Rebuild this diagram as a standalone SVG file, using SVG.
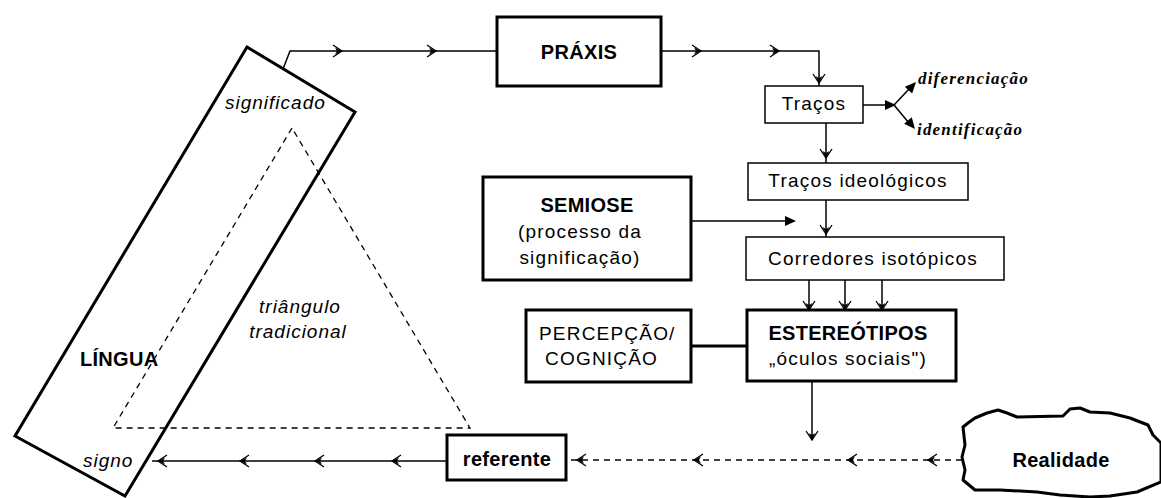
<svg xmlns="http://www.w3.org/2000/svg" xmlns:xlink="http://www.w3.org/1999/xlink" width="1161" height="498" viewBox="0 0 1161 498">
<style>
.thick{fill:none;stroke:#000;stroke-width:3}
.thin{fill:none;stroke:#000;stroke-width:1.5}
.ln{fill:none;stroke:#000;stroke-width:1.5}
.dash{fill:none;stroke:#000;stroke-width:1.3;stroke-dasharray:6 5}
.b{font-family:"Liberation Sans",Arial,sans-serif;font-weight:bold;font-size:20px;letter-spacing:0.3px;fill:#000}
.r{font-family:"Liberation Sans",Arial,sans-serif;font-size:19px;letter-spacing:1.2px;fill:#000}
.i{font-family:"Liberation Sans",Arial,sans-serif;font-style:italic;font-size:19px;letter-spacing:1px;fill:#000}
.s{font-family:"Liberation Serif","Times New Roman",serif;font-style:italic;font-weight:bold;font-size:17px;letter-spacing:1.2px;fill:#000}
.m{text-anchor:middle}
</style>
<defs>
<g id="chev"><path d="M-9,-6 L0,0 L-9,6" fill="none" stroke="#000" stroke-width="1.3"/><path d="M0,0 L-7,-3.5 L-5,0 L-7,3.5Z" fill="#000"/></g>
<path id="tri" d="M0,0 L-11,-5 L-11,5Z" fill="#000"/>
</defs>
<rect width="1161" height="498" fill="#fff"/>

<g id="triangulo">
<polygon class="dash" points="292,128 113,428 470,428"/>
<text class="i m" x="300" y="313">triângulo</text>
<text class="i m" x="298" y="338">tradicional</text>
</g>

<g id="lingua">
<polygon class="thick" points="247,47 355,112 125,496 15,436" stroke-width="3.5"/>
<text class="i" x="225" y="109">significado</text>
<text class="b" x="80" y="366">LÍNGUA</text>
<text class="i" x="83" y="467">signo</text>
</g>

<g id="praxis">
<rect class="thick" x="497" y="17" width="164" height="69"/>
<text class="b m" x="579" y="59">PRÁXIS</text>
</g>

<g id="tracos">
<rect class="thin" x="765" y="86" width="98" height="37"/>
<text class="r m" x="814" y="110">Traços</text>
</g>

<g id="diferenciacao"><text class="s" x="918" y="84">diferenciação</text></g>
<g id="identificacao"><text class="s" x="917" y="135">identificação</text></g>

<g id="tracos-ideologicos">
<rect class="thin" x="748" y="163" width="220" height="37"/>
<text class="r m" x="858" y="187">Traços ideológicos</text>
</g>

<g id="semiose">
<rect class="thick" x="483" y="177" width="208" height="103"/>
<text class="b m" x="587" y="212">SEMIOSE</text>
<text class="r m" x="580" y="238">(processo da</text>
<text class="r m" x="580" y="264">significação)</text>
</g>

<g id="corredores">
<rect class="thin" x="746" y="237" width="258" height="43"/>
<text class="r m" x="873" y="265">Corredores isotópicos</text>
</g>

<g id="percepcao">
<rect class="thick" x="526" y="310" width="165" height="72"/>
<text class="r" x="539" y="340">PERCEPÇÃO/</text>
<text class="r" x="545" y="365">COGNIÇÃO</text>
</g>

<g id="estereotipos">
<rect class="thick" x="747" y="310" width="209" height="71"/>
<text class="b m" x="848" y="340">ESTEREÓTIPOS</text>
<text class="r m" x="848" y="365">„óculos sociais")</text>
</g>

<g id="referente">
<rect class="thick" x="447" y="435" width="119" height="45"/>
<text class="b m" x="507" y="466">referente</text>
</g>

<g id="realidade">
<path class="thick" stroke-linejoin="round" d="M963,427 L968,423 L975,418 L987,413 L998,410 L1007,413 L1017,417 L1063,416 L1070,409 L1080,408 L1090,412 L1110,413 L1130,418 L1148,425 L1153,435 L1161,443 L1161,482 L1137,492 L1110,496 L1090,497 L1060,495 L1037,492 L1000,490 L975,490 L963,480 L965,470 L962,457 L965,445 Z"/>
<text class="b m" x="1061" y="467">Realidade</text>
</g>

<g id="connectors">
<polyline class="ln" points="283,69 290,51 497,51" stroke-width="2.5"/>
<use xlink:href="#chev" transform="translate(342,51)"/>
<use xlink:href="#chev" transform="translate(436,51)"/>

<polyline class="ln" points="661,51 819,51 819,86"/>
<use xlink:href="#chev" transform="translate(701,51)"/>
<use xlink:href="#chev" transform="translate(779,51)"/>
<use xlink:href="#chev" transform="translate(819,83) rotate(90)"/>

<line class="ln" x1="863" y1="105" x2="888" y2="105"/>
<use xlink:href="#tri" transform="translate(896,105)"/>
<line class="ln" x1="894" y1="105" x2="910" y2="88" stroke-width="1.2"/>
<use xlink:href="#tri" transform="translate(916,82) rotate(-47)"/>
<line class="ln" x1="894" y1="105" x2="909" y2="123" stroke-width="1.2"/>
<use xlink:href="#tri" transform="translate(915,129) rotate(50)"/>

<line class="ln" x1="826" y1="123" x2="826" y2="163"/>
<use xlink:href="#chev" transform="translate(826,158) rotate(90)"/>

<line class="ln" x1="826" y1="200" x2="826" y2="237"/>
<use xlink:href="#chev" transform="translate(826,234) rotate(90)"/>

<line class="ln" x1="691" y1="221" x2="788" y2="221"/>
<use xlink:href="#tri" transform="translate(796,221)"/>

<line class="ln" x1="809" y1="280" x2="809" y2="310"/>
<line class="ln" x1="845" y1="280" x2="845" y2="310"/>
<line class="ln" x1="882" y1="280" x2="882" y2="310"/>
<use xlink:href="#chev" transform="translate(809,310) rotate(90)"/>
<use xlink:href="#chev" transform="translate(845,310) rotate(90)"/>
<use xlink:href="#chev" transform="translate(882,310) rotate(90)"/>

<line class="thick" x1="691" y1="346" x2="747" y2="346"/>

<line class="ln" x1="812" y1="381" x2="812" y2="440"/>
<use xlink:href="#chev" transform="translate(812,440) rotate(90)"/>

<line class="dash" x1="962" y1="460" x2="566" y2="460"/>
<use xlink:href="#chev" transform="translate(928,460) rotate(180)"/>
<use xlink:href="#chev" transform="translate(848,460) rotate(180)"/>
<use xlink:href="#chev" transform="translate(694,460) rotate(180)"/>
<use xlink:href="#chev" transform="translate(577,460) rotate(180)"/>

<line class="ln" x1="447" y1="461" x2="152" y2="461"/>
<use xlink:href="#chev" transform="translate(392,461) rotate(180)"/>
<use xlink:href="#chev" transform="translate(315,461) rotate(180)"/>
<use xlink:href="#chev" transform="translate(240,461) rotate(180)"/>
<use xlink:href="#chev" transform="translate(158,461) rotate(180)"/>
</g>
</svg>
